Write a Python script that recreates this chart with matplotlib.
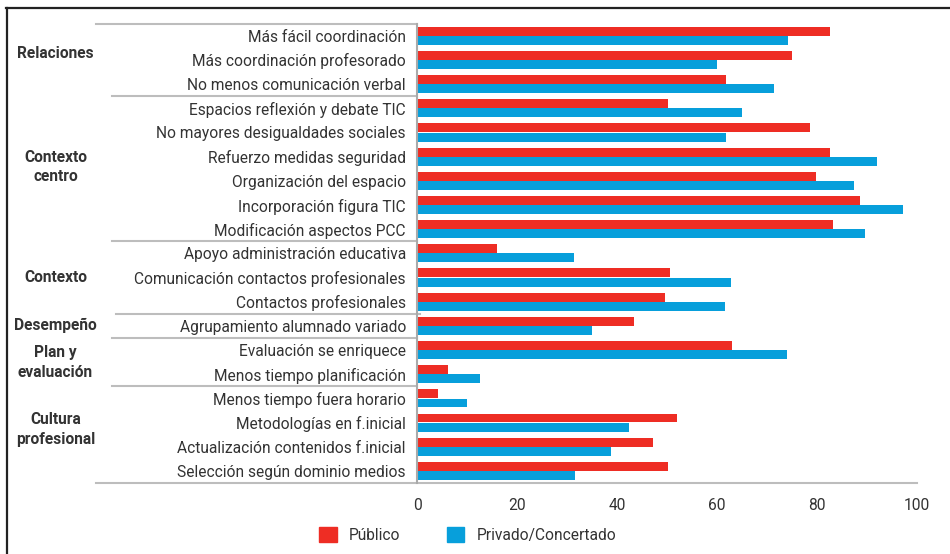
import numpy as np
import matplotlib
matplotlib.use("Agg")
import matplotlib.pyplot as plt
import matplotlib.transforms as mtransforms
from matplotlib.patches import Patch
from matplotlib.lines import Line2D

plt.rcParams['font.family'] = ['Roboto', 'DejaVu Sans']

# Data
categories = [
    "Más fácil coordinación",
    "Más coordinación profesorado",
    "No menos comunicación verbal",
    "Espacios reflexión y debate TIC",
    "No mayores desigualdades sociales",
    "Refuerzo medidas seguridad",
    "Organización del espacio",
    "Incorporación figura TIC",
    "Modificación aspectos PCC",
    "Apoyo administración educativa",
    "Comunicación contactos profesionales",
    "Contactos profesionales",
    "Agrupamiento alumnado variado",
    "Evaluación se enriquece",
    "Menos tiempo planificación",
    "Menos tiempo fuera horario",
    "Metodologías en f.inicial",
    "Actualización contenidos f.inicial",
    "Selección según dominio medios",
]
publico = [82.5, 75.0, 61.7, 50.2, 78.5, 82.5, 79.7, 88.5, 83.1,
           15.9, 50.6, 49.5, 43.3, 63.0, 6.1, 4.1, 51.9, 47.1, 50.2]
privado = [74.2, 59.9, 71.3, 64.9, 61.7, 92.0, 87.4, 97.1, 89.5,
           31.3, 62.8, 61.5, 34.9, 73.9, 12.5, 9.9, 42.3, 38.8, 31.5]

groups = ["Relaciones", "Contexto\ncentro", "Contexto", "Desempeño",
          "Plan y\nevaluación", "Cultura\nprofesional"]
group_pos = [0.75, 5.43, 10.0, 12.0, 13.5, 16.3]
# separator lines between groups: (row boundary, x start in px)
separators = [(2.5, 112), (8.5, 112), (11.5, 116), (12.5, 112), (14.5, 112)]

x_ticks = [0, 20, 40, 60, 80, 100]

RED = "#EE2D24"
BLUE = "#079FDB"
GREY = "#BDBDBD"
TEXT = "#333333"
FS = 11.2

W, H = 950, 554
fig = plt.figure(figsize=(9.5, 5.54), dpi=100)
ax = fig.add_axes([417 / W, 1 - 483 / H, 500 / W, (483 - 23.7) / H])

y = np.arange(len(categories))
bh = 0.37
ax.barh(y - 0.19, publico, height=bh, color=RED, label="Público")
ax.barh(y + 0.19, privado, height=bh, color=BLUE, label="Privado/Concertado")

ax.set_xlim(0, 100)
ax.set_ylim(len(categories) - 0.5, -0.5)
ax.set_xticks(x_ticks)
ax.set_xticklabels([str(t) for t in x_ticks])
ax.set_yticks(y)
ax.set_yticklabels(categories)
ax.tick_params(axis='y', length=0, pad=8, labelsize=FS, labelcolor=TEXT)
ax.tick_params(axis='x', length=0, pad=11, labelsize=FS, labelcolor=TEXT)

for s in ["top", "right", "bottom"]:
    ax.spines[s].set_visible(False)
ax.spines["left"].set_color("#AAAAAA")
ax.spines["left"].set_linewidth(1.5)

# horizontal rules in figure-x / data-y coordinates
trans = mtransforms.blended_transform_factory(fig.transFigure, ax.transData)
rules = [(-0.5, 96, 417), (len(categories) - 0.5, 96, 917)]
rules += [(r, x0, 420 if x0 == 116 else 417) for r, x0 in separators]
for r, x0, x1 in rules:
    ax.add_line(Line2D([x0 / W, x1 / W], [r, r], transform=trans,
                       color=GREY, lw=1.5, clip_on=False))

for label, pos in zip(groups, group_pos):
    ax.text(55.5 / W, pos, label, transform=trans, ha='center', va='center',
            fontsize=FS, fontweight='bold', color=TEXT, linespacing=1.4)

# outer frame
fig.add_artist(Line2D([6.7 / W, 6.7 / W], [0, 1 - 8.3 / H],
                      transform=fig.transFigure, color="#222222", lw=1.6))
fig.add_artist(Line2D([6 / W, 1], [1 - 8.3 / H, 1 - 8.3 / H],
                      transform=fig.transFigure, color="#222222", lw=1.6))

handles = [Patch(color=RED, label="Público"),
           Patch(color=BLUE, label="Privado/Concertado")]
fig.legend(handles=handles, loc='center', ncol=2,
           bbox_to_anchor=(468 / W, 1 - 535 / H), frameon=False,
           fontsize=FS, handlelength=1.1, handleheight=1.1,
           columnspacing=3.0, handletextpad=0.8, labelcolor=TEXT)

fig.savefig("out.png", dpi=100)
